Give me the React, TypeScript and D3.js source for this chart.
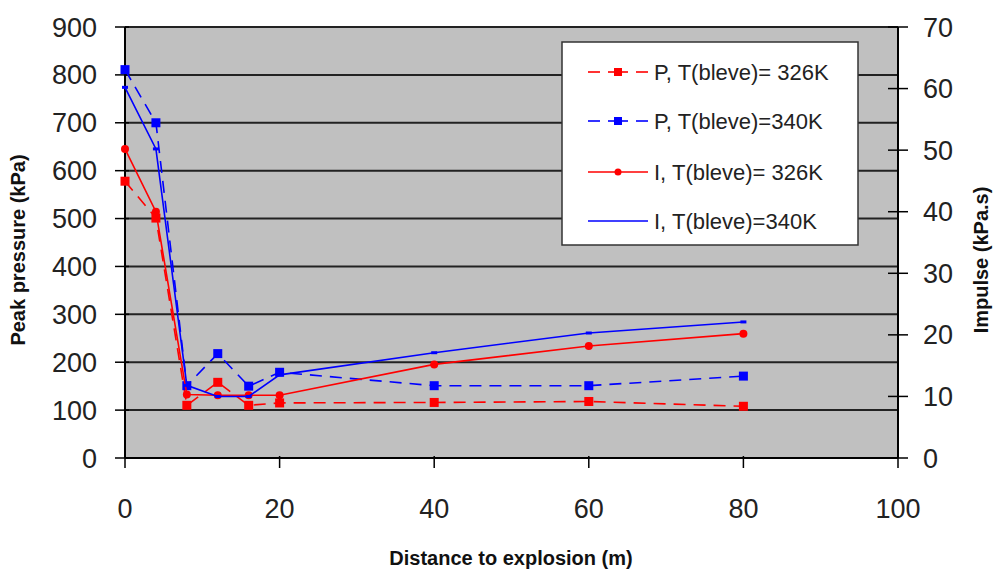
import React from "react";
import * as d3 from "d3";

const distances = [0, 4, 8, 12, 16, 20, 40, 60, 80];
const pressure326 = [578, 501, 110, 158, 110, 115, 116, 118, 108];
const pressure340 = [811, 700, 151, 218, 150, 179, 151, 151, 171];
const impulse326 = [50.2, 40, 10.3, 10.2, 10.2, 10.2, 15.2, 18.2, 20.2];
const impulse340 = [60.2, 50.2, 11.8, 10, 10, 13.5, 17.1, 20.3, 22.1];

const xTicks = [0, 20, 40, 60, 80, 100];
const leftTicks = [0, 100, 200, 300, 400, 500, 600, 700, 800, 900];
const rightTicks = [0, 10, 20, 30, 40, 50, 60, 70];

const legendLabels = [
  "P, T(bleve)= 326K",
  "P, T(bleve)=340K",
  "I, T(bleve)= 326K",
  "I, T(bleve)=340K",
];

const W = 994;
const H = 569;
const L = 125, R = 898, T = 27, B = 458;
const RED = "#ff0000";
const BLUE = "#0000ff";
const FONT = "'Liberation Sans', Arial, sans-serif";

export default function App() {
  const x = d3.scaleLinear().domain([0, 100]).range([L, R]);
  const yL = d3.scaleLinear().domain([0, 900]).range([B, T]);
  const yR = d3.scaleLinear().domain([0, 70]).range([B, T]);

  const mk = (vals: number[], y: d3.ScaleLinear<number, number>) =>
    d3.line<number>().x((_, i) => x(distances[i])).y((v) => y(v))(vals) || "";

  const series = [
    { vals: pressure326, y: yL, color: RED, dash: "12,8", marker: "square", size: 9 },
    { vals: pressure340, y: yL, color: BLUE, dash: "12,8", marker: "square", size: 9 },
    { vals: impulse326, y: yR, color: RED, dash: "", marker: "circle", size: 4 },
    { vals: impulse340, y: yR, color: BLUE, dash: "", marker: "tiny", size: 4 },
  ];

  const drawMarker = (type: string, cx: number, cy: number, color: string, size: number, key: string) => {
    if (type === "square")
      return <rect key={key} x={cx - size / 2} y={cy - size / 2} width={size} height={size} fill={color} />;
    if (type === "circle") return <circle key={key} cx={cx} cy={cy} r={size} fill={color} />;
    return <rect key={key} x={cx - 3} y={cy - 1.5} width={6} height={3} fill={color} />;
  };

  const legendY = [72, 121, 172, 221];

  return (
    <svg width={W} height={H} style={{ position: "absolute", left: 0, top: 0, background: "#fff" }}>
      <rect x={L} y={T} width={R - L} height={B - T} fill="#c0c0c0" />
      {leftTicks.map((t) => (
        <line key={"g" + t} x1={L} x2={R} y1={yL(t)} y2={yL(t)} stroke="#222" strokeWidth={2} />
      ))}
      {/* axes */}
      <line x1={L} x2={L} y1={T} y2={B} stroke="#000" strokeWidth={2} />
      <line x1={R} x2={R} y1={T} y2={B} stroke="#000" strokeWidth={2} />
      <line x1={L} x2={R} y1={B} y2={B} stroke="#000" strokeWidth={2} />
      {leftTicks.map((t) => (
        <g key={"lt" + t}>
          <line x1={L - 10} x2={L + 4} y1={yL(t)} y2={yL(t)} stroke="#000" strokeWidth={1.5} />
          <text x={97} y={yL(t) + 9.5} textAnchor="end" fontSize={27} fontFamily={FONT} fill="#222">
            {t}
          </text>
        </g>
      ))}
      {rightTicks.map((t) => (
        <g key={"rt" + t}>
          <line x1={R - 10} x2={R + 10} y1={yR(t)} y2={yR(t)} stroke="#000" strokeWidth={1.5} />
          <text x={923} y={yR(t) + 9.5} textAnchor="start" fontSize={27} fontFamily={FONT} fill="#222">
            {t}
          </text>
        </g>
      ))}
      {xTicks.map((t) => (
        <g key={"xt" + t}>
          <line x1={x(t)} x2={x(t)} y1={B - 2} y2={B + 10} stroke="#000" strokeWidth={1.5} />
          <text x={x(t)} y={518} textAnchor="middle" fontSize={27} fontFamily={FONT} fill="#222">
            {t}
          </text>
        </g>
      ))}
      {/* series */}
      {series.map((s, si) => (
        <g key={"s" + si}>
          <path d={mk(s.vals, s.y)} fill="none" stroke={s.color} strokeWidth={1.6} strokeDasharray={s.dash || undefined} />
          {s.vals.map((v, i) => drawMarker(s.marker, x(distances[i]), s.y(v), s.color, s.size, `m${si}-${i}`))}
        </g>
      ))}
      {/* legend */}
      <rect x={562} y={42} width={296} height={203} fill="#fff" stroke="#333" strokeWidth={1.5} />
      {series.map((s, i) => (
        <g key={"lg" + i}>
          {s.dash ? (
            <>
              <line x1={588} x2={600} y1={legendY[i]} y2={legendY[i]} stroke={s.color} strokeWidth={1.6} />
              <line x1={608} x2={628} y1={legendY[i]} y2={legendY[i]} stroke={s.color} strokeWidth={1.6} />
              <line x1={636} x2={648} y1={legendY[i]} y2={legendY[i]} stroke={s.color} strokeWidth={1.6} />
            </>
          ) : (
            <line x1={588} x2={648} y1={legendY[i]} y2={legendY[i]} stroke={s.color} strokeWidth={1.6} />
          )}
          {s.marker === "square" && drawMarker("square", 618, legendY[i], s.color, 8, "lm" + i)}
          {s.marker === "circle" && drawMarker("circle", 618, legendY[i], s.color, 3.5, "lm" + i)}
          <text x={654} y={legendY[i] + 8} fontSize={22} fontFamily={FONT} fill="#222">
            {legendLabels[i]}
          </text>
        </g>
      ))}
      {/* axis titles */}
      <text
        transform={`translate(25,250) rotate(-90)`}
        textAnchor="middle"
        fontSize={20}
        fontWeight="bold"
        fontFamily={FONT}
        fill="#111"
      >
        Peak pressure (kPa)
      </text>
      <text
        transform={`translate(988,260) rotate(-90)`}
        textAnchor="middle"
        fontSize={20}
        fontWeight="bold"
        fontFamily={FONT}
        fill="#111"
      >
        Impulse (kPa.s)
      </text>
      <text x={511} y={565} textAnchor="middle" fontSize={20} fontWeight="bold" fontFamily={FONT} fill="#111">
        Distance to explosion (m)
      </text>
    </svg>
  );
}
